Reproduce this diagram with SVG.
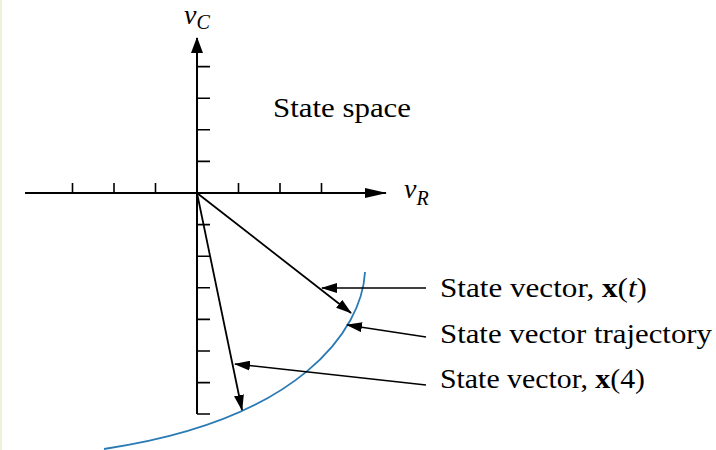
<svg xmlns="http://www.w3.org/2000/svg" width="716" height="450" viewBox="0 0 716 450">
<defs>
<style>
.ax{stroke:#000;stroke-width:2;fill:none}
.tk{stroke:#000;stroke-width:1.6;fill:none}
.vec{stroke:#000;stroke-width:1.8;fill:none}
.ld{stroke:#000;stroke-width:1.5;fill:none}
.traj{stroke:#2a7ab5;stroke-width:1.8;fill:none}
.t{font-size:28px;fill:#000}
.it{font-style:italic}
.b{font-weight:bold}
</style>
<marker id="ah" viewBox="0 0 16 10" markerUnits="userSpaceOnUse" markerWidth="16" markerHeight="10" refX="15" refY="5" orient="auto">
<path d="M0,0 L16,5 L0,10 z" fill="#000"/>
</marker>
<marker id="axh" viewBox="0 0 22 10" markerUnits="userSpaceOnUse" markerWidth="22" markerHeight="10" refX="21" refY="5" orient="auto">
<path d="M0,0 L22,5 L0,10 z" fill="#000"/>
</marker>
<marker id="axv" viewBox="0 0 16 12" markerUnits="userSpaceOnUse" markerWidth="16" markerHeight="12" refX="15" refY="6" orient="auto">
<path d="M0,0 L16,6 L0,12 z" fill="#000"/>
</marker>
</defs>
<rect x="0" y="0" width="716" height="450" fill="#fff"/>
<rect x="0" y="0" width="2" height="450" fill="#eef2dc"/>
<g font-family="Liberation Serif, Times New Roman, serif">
<g id="axes">
<line class="ax" x1="25" y1="193" x2="386" y2="193" marker-end="url(#axh)"/>
<line class="ax" x1="197" y1="414" x2="197" y2="38" marker-end="url(#axv)"/>
<path class="tk" d="M72.5,193V183 M114,193V183 M155.5,193V183 M238.5,193V183 M280,193V183 M321.5,193V183"/>
<path class="tk" d="M197,66.6H210 M197,98.2H210 M197,129.8H210 M197,161.4H210 M197,224.6H210 M197,256.2H210 M197,287.8H210 M197,319.4H210 M197,351H210 M197,382.6H210 M197,414H210"/>
<text class="t it" x="184" y="24">v<tspan font-size="20" y="29">C</tspan></text>
<text class="t it" x="404" y="198">v<tspan font-size="20" y="205">R</tspan></text>
<text class="t" x="273" y="117" textLength="138" lengthAdjust="spacingAndGlyphs">State space</text>
</g>
<g id="trajectory">
<path class="traj" d="M365,272 C362,330 300,420 104,449"/>
</g>
<g id="connectors">
<line class="vec" x1="197" y1="193" x2="351" y2="313" marker-end="url(#ah)"/>
<line class="vec" x1="197" y1="193" x2="242" y2="410" marker-end="url(#ah)"/>
<line class="ld" x1="426" y1="288" x2="322" y2="288" marker-end="url(#ah)"/>
<line class="ld" x1="426" y1="337" x2="347" y2="325" marker-end="url(#ah)"/>
<line class="ld" x1="426" y1="385" x2="235" y2="364" marker-end="url(#ah)"/>
</g>
<g id="label-xt">
<text class="t" x="440" y="297" textLength="207" lengthAdjust="spacingAndGlyphs">State vector, <tspan class="b">x</tspan>(<tspan class="it">t</tspan>)</text>
</g>
<g id="label-traj">
<text class="t" x="440" y="343" textLength="272" lengthAdjust="spacingAndGlyphs">State vector trajectory</text>
</g>
<g id="label-x4">
<text class="t" x="440" y="388" textLength="205" lengthAdjust="spacingAndGlyphs">State vector, <tspan class="b">x</tspan>(4)</text>
</g>
</g>
</svg>
